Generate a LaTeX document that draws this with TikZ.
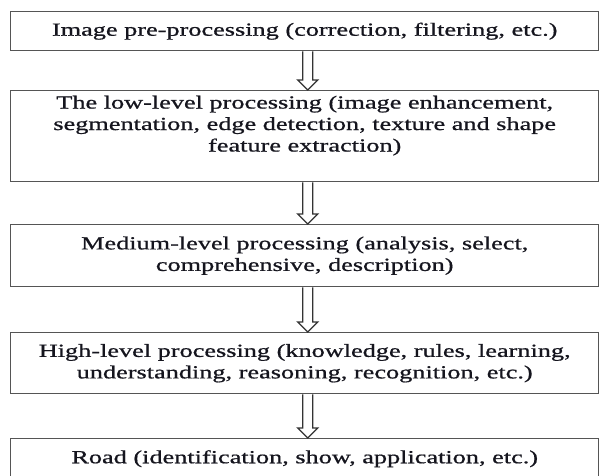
\documentclass[tikz,border=0pt]{standalone}
\usepackage{fontspec}
\setmainfont{Liberation Serif}[FakeStretch=1.42, FakeBold=0.8]
\usetikzlibrary{calc}
\definecolor{edge}{HTML}{555555}
\definecolor{ink}{HTML}{15151E}
\tikzset{
  stage/.style={draw=edge, line width=1.4pt, fill=white, minimum width=588pt,
    inner sep=0pt, anchor=north west, align=center, text=ink,
    font=\fontsize{18.5}{21.5}\selectfont},
  % hollow block arrow from the bottom of one stage to the top of the next
  flowarrow/.style={draw=edge!60!black, line width=1.3pt, line join=miter, to path={
    let \p1=(\tikztostart), \p2=(\tikztotarget) in
    (\x1-5pt,\y1) -- (\x1-5pt,\y2+10pt) -- (\x1-10pt,\y2+10pt) -- (\x1,\y2)
    -- (\x1+10pt,\y2+10pt) -- (\x1+5pt,\y2+10pt) -- (\x1+5pt,\y1)}}
}
\begin{document}
\begin{tikzpicture}
\useasboundingbox (0,0) rectangle (599pt,-475pt);
\clip (0,0) rectangle (599pt,-475pt);

\node[stage, minimum height=39pt] (b1) at (10pt,-11pt)
  {Image pre-processing (correction, filtering, etc.)};
\node[stage, minimum height=91pt] (b2) at (10pt,-90pt)
  {\parbox[c][81pt][t]{588pt}{\centering The low-level processing (image enhancement,\\
   segmentation, edge detection, texture and shape\\ feature extraction)}};
\node[stage, minimum height=62pt] (b3) at (10pt,-224pt)
  {Medium-level processing (analysis, select,\\ comprehensive, description)};
\node[stage, minimum height=61pt] (b4) at (10pt,-332pt)
  {High-level processing (knowledge, rules, learning,\\ understanding, reasoning, recognition, etc.)};
\node[stage, minimum height=40pt] (b5) at (10pt,-438pt)
  {Road (identification, show, application, etc.)};

\draw[flowarrow] ([xshift=3pt]b1.south) to ([xshift=3pt]b2.north);
\draw[flowarrow] ([xshift=3pt]b2.south) to ([xshift=3pt]b3.north);
\draw[flowarrow] ([xshift=3pt]b3.south) to ([xshift=3pt]b4.north);
\draw[flowarrow] ([xshift=3pt]b4.south) to ([xshift=3pt]b5.north);
\end{tikzpicture}
\end{document}
